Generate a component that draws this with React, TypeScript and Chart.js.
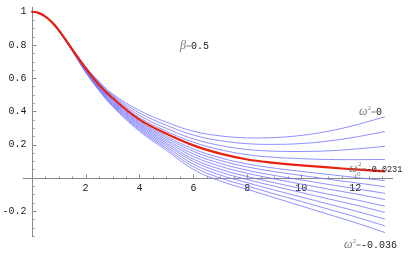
import React, { useEffect, useRef } from "react";
import { Chart, registerables } from "chart.js";
Chart.register(...registerables);

const xValues = [0, 0.25, 0.5, 0.75, 1, 1.5, 2, 2.5, 3, 4, 5, 6, 7, 8, 9, 10, 11, 12, 13.1];
const redCurve = [1, 0.993, 0.972, 0.937, 0.89, 0.775, 0.66, 0.56, 0.48, 0.35, 0.265, 0.195, 0.145, 0.11, 0.09, 0.075, 0.062, 0.05, 0.038];
const blueU1 = [1, 0.993, 0.972, 0.937, 0.89, 0.78, 0.67, 0.58, 0.505, 0.405, 0.335, 0.28, 0.252, 0.24, 0.242, 0.255, 0.28, 0.317, 0.367];
const blueU2 = [1, 0.993, 0.972, 0.937, 0.89, 0.779, 0.667, 0.575, 0.498, 0.39, 0.316, 0.257, 0.223, 0.205, 0.201, 0.206, 0.221, 0.245, 0.278];
const blueU3 = [1, 0.993, 0.972, 0.937, 0.89, 0.777, 0.665, 0.569, 0.492, 0.375, 0.297, 0.234, 0.194, 0.17, 0.16, 0.158, 0.162, 0.173, 0.189];
const blueU4 = [1, 0.993, 0.972, 0.937, 0.89, 0.776, 0.662, 0.564, 0.486, 0.362, 0.28, 0.214, 0.169, 0.139, 0.123, 0.115, 0.11, 0.109, 0.11];
const blueL1 = [1, 0.993, 0.972, 0.937, 0.889, 0.773, 0.656, 0.555, 0.472, 0.339, 0.25, 0.173, 0.12, 0.083, 0.058, 0.038, 0.02, 0.002, -0.017];
const blueL2 = [1, 0.993, 0.972, 0.937, 0.889, 0.772, 0.654, 0.551, 0.467, 0.332, 0.24, 0.159, 0.104, 0.065, 0.037, 0.014, -0.009, -0.03, -0.054];
const blueL3 = [1, 0.993, 0.972, 0.937, 0.888, 0.771, 0.651, 0.547, 0.462, 0.325, 0.229, 0.143, 0.086, 0.045, 0.014, -0.013, -0.04, -0.065, -0.094];
const blueL4 = [1, 0.993, 0.972, 0.937, 0.888, 0.77, 0.648, 0.544, 0.457, 0.318, 0.219, 0.128, 0.069, 0.027, -0.007, -0.038, -0.068, -0.097, -0.131];
const blueL5 = [1, 0.993, 0.972, 0.937, 0.887, 0.769, 0.646, 0.54, 0.451, 0.31, 0.208, 0.112, 0.051, 0.007, -0.03, -0.065, -0.099, -0.132, -0.172];
const blueL6 = [1, 0.993, 0.972, 0.937, 0.887, 0.768, 0.643, 0.537, 0.446, 0.303, 0.198, 0.098, 0.034, -0.011, -0.051, -0.089, -0.127, -0.164, -0.209];
const blueL7 = [1, 0.993, 0.972, 0.937, 0.886, 0.767, 0.64, 0.533, 0.441, 0.295, 0.187, 0.082, 0.016, -0.03, -0.074, -0.116, -0.158, -0.2, -0.249];
const blueL8 = [1, 0.993, 0.972, 0.937, 0.886, 0.766, 0.638, 0.529, 0.435, 0.288, 0.176, 0.066, -0.002, -0.05, -0.097, -0.143, -0.189, -0.235, -0.29];
const blueL9 = [1, 0.993, 0.972, 0.937, 0.885, 0.765, 0.635, 0.525, 0.43, 0.28, 0.165, 0.05, -0.02, -0.07, -0.12, -0.17, -0.22, -0.27, -0.33];
const blueCurves = [blueU1, blueU2, blueU3, blueU4, blueL1, blueL2, blueL3, blueL4, blueL5, blueL6, blueL7, blueL8, blueL9];

const xTickLabels = ["2", "4", "6", "8", "10", "12"];
const xTickValues = [2, 4, 6, 8, 10, 12];
const yTickLabels = ["-0.2", "0.2", "0.4", "0.6", "0.8", "1"];
const yTickValues = [-0.2, 0.2, 0.4, 0.6, 0.8, 1];

const X_MIN = -0.33, X_MAX = 13.4, Y_MIN = -0.355, Y_MAX = 1.03;

const MONO = "'Liberation Mono', 'DejaVu Sans Mono', monospace";
const SERIF = "'Liberation Serif', 'DejaVu Serif', serif";

type Seg = { t: string; font: string; color: string; dy?: number };

function drawSegs(ctx: CanvasRenderingContext2D, x: number, y: number, segs: Seg[]) {
  let cx = x;
  for (const s of segs) {
    ctx.font = s.font;
    ctx.fillStyle = s.color;
    ctx.fillText(s.t, cx, y + (s.dy || 0));
    cx += ctx.measureText(s.t).width;
  }
}

const axesPlugin = {
  id: "mmaAxes",
  beforeDatasetsDraw(chart: any) {
    const ctx = chart.ctx as CanvasRenderingContext2D;
    const xs = chart.scales.x, ys = chart.scales.y;
    const x0 = xs.getPixelForValue(0), y0 = ys.getPixelForValue(0);
    const ax = Math.round(x0) + 0.5, ay = Math.round(y0) + 0.5;
    ctx.save();
    ctx.strokeStyle = "#8a8a8a";
    ctx.lineWidth = 1;
    ctx.beginPath();
    ctx.moveTo(xs.getPixelForValue(X_MIN), ay);
    ctx.lineTo(xs.getPixelForValue(X_MAX), ay);
    ctx.moveTo(ax, ys.getPixelForValue(Y_MIN));
    ctx.lineTo(ax, ys.getPixelForValue(Y_MAX));
    for (let k = 1; k <= 26; k++) {
      const px = Math.round(xs.getPixelForValue(k * 0.5)) + 0.5;
      const len = k % 4 === 0 ? 4 : 2;
      ctx.moveTo(px, ay);
      ctx.lineTo(px, ay - len);
    }
    for (let k = -7; k <= 20; k++) {
      if (k === 0) continue;
      const py = Math.round(ys.getPixelForValue(k * 0.05)) + 0.5;
      const len = k % 4 === 0 ? 4 : 2;
      ctx.moveTo(ax, py);
      ctx.lineTo(ax + len, py);
    }
    ctx.stroke();

    ctx.fillStyle = "#222";
    ctx.font = "10px " + MONO;
    ctx.textAlign = "center";
    ctx.textBaseline = "middle";
    xTickValues.forEach((v, i) => {
      ctx.fillText(xTickLabels[i], xs.getPixelForValue(v), y0 + 11);
    });
    ctx.textAlign = "right";
    yTickValues.forEach((v, i) => {
      ctx.fillText(yTickLabels[i], x0 - 5, ys.getPixelForValue(v));
    });
    ctx.restore();
  },
  afterDatasetsDraw(chart: any) {
    const ctx = chart.ctx as CanvasRenderingContext2D;
    ctx.save();
    ctx.textAlign = "left";
    ctx.textBaseline = "alphabetic";
    const gray = "#777";
    const dark = "#222";
    const it = "italic 12px " + SERIF;
    const sup = "7px " + SERIF;
    const eq = "9px " + SERIF;
    const num = "10px " + MONO;
    drawSegs(ctx, 180, 49, [
      { t: "β", font: it, color: gray },
      { t: "=", font: eq, color: gray },
      { t: "0.5", font: num, color: dark },
    ]);
    drawSegs(ctx, 359, 115, [
      { t: "ω", font: it, color: gray },
      { t: "2", font: sup, color: gray, dy: -5 },
      { t: "=", font: eq, color: gray },
      { t: "0", font: num, color: dark },
    ]);
    ctx.font = it;
    ctx.fillStyle = gray;
    ctx.fillText("ω", 349, 172);
    ctx.font = sup;
    ctx.fillText("0", 357, 176);
    drawSegs(ctx, 358, 172, [
      { t: "2", font: sup, color: gray, dy: -6 },
      { t: "=", font: eq, color: gray },
      { t: "-0.0231", font: "8.5px " + MONO, color: dark },
    ]);
    drawSegs(ctx, 344, 248, [
      { t: "ω", font: it, color: gray },
      { t: "2", font: sup, color: gray, dy: -5 },
      { t: "=", font: eq, color: gray },
      { t: "-0.036", font: num, color: dark },
    ]);
    ctx.restore();
  },
};

export default function App() {
  const ref = useRef<HTMLCanvasElement | null>(null);
  useEffect(() => {
    if (!ref.current) return;
    const datasets: any[] = [
      {
        data: xValues.map((x, i) => ({ x, y: redCurve[i] })),
        borderColor: "#e8210f",
        borderWidth: 2.2,
        pointRadius: 0,
        tension: 0.4,
        fill: false,
      },
      ...blueCurves.map((c) => ({
        data: xValues.map((x, i) => ({ x, y: c[i] })),
        borderColor: "rgba(115,115,255,0.8)",
        borderWidth: 1,
        pointRadius: 0,
        tension: 0.4,
        fill: false,
      })),
    ];
    const chart = new Chart(ref.current, {
      type: "line",
      data: { datasets },
      options: {
        animation: false,
        responsive: false,
        maintainAspectRatio: false,
        layout: { padding: { left: 22.7, right: 24, top: 6.7, bottom: 21.3 } },
        plugins: { legend: { display: false }, tooltip: { enabled: false } },
        scales: {
          x: { type: "linear", min: X_MIN, max: X_MAX, display: false },
          y: { type: "linear", min: Y_MIN, max: Y_MAX, display: false },
        },
      },
      plugins: [axesPlugin],
    });
    return () => chart.destroy();
  }, []);
  return (
    <div style={{ position: "fixed", left: 0, top: 0, width: 417, height: 258, background: "#fff" }}>
      <canvas ref={ref} width={417} height={258} style={{ width: 417, height: 258 }} />
    </div>
  );
}
